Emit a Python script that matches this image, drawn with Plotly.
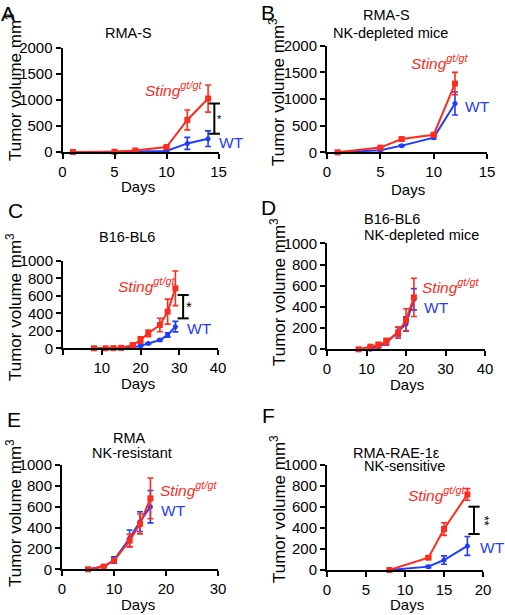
import plotly.graph_objects as go

W, H = 505, 615
RED = "#ff2b1c"
BLUE = "#1f3cff"
FONT = "Liberation Sans, Arial, sans-serif"

# ---------------- data ----------------
# Panel A: RMA-S
A_days = [1, 5, 7, 10, 12, 14]
A_sting = [0, 5, 30, 95, 615, 1025]
A_sting_sem = [0, 5, 10, 20, 190, 260]
A_wt = [0, 0, 8, 20, 165, 255]
A_wt_sem = [0, 0, 5, 8, 115, 150]

# Panel B: RMA-S NK-depleted
B_days = [1, 5, 7, 10, 12]
B_sting = [0, 88, 250, 330, 1290]
B_sting_sem = [0, 15, 20, 20, 210]
B_wt = [0, 40, 125, 275, 915]
B_wt_sem = [0, 10, 15, 20, 215]

# Panel C: B16-BL6
C_days_sting = [8, 11, 13, 15, 18, 20, 22, 25, 27, 29]
C_sting = [0, 0, 2, 5, 38, 95, 172, 267, 420, 687]
C_sting_sem = [0, 0, 0, 0, 10, 38, 38, 77, 143, 198]
C_days_wt = [15, 18, 20, 22, 25, 27, 29]
C_wt = [0, 10, 28, 55, 95, 153, 248]
C_wt_sem = [0, 3, 5, 8, 12, 25, 60]

# Panel D: B16-BL6 NK-depleted
D_days_sting = [8, 11, 13, 15, 18, 20, 22]
D_sting = [0, 25, 40, 72, 157, 277, 490]
D_sting_sem = [0, 8, 25, 32, 52, 105, 180]
D_days_wt = [11, 13, 15, 18, 20, 22]
D_wt = [0, 25, 57, 167, 239, 472]
D_wt_sem = [0, 8, 15, 40, 68, 100]

# Panel E: RMA NK-resistant
E_days = [5, 8, 10, 13, 15, 17]
E_sting = [0, 26, 83, 275, 435, 680]
E_sting_sem = [0, 5, 15, 60, 95, 195]
E_wt = [0, 26, 89, 297, 457, 600]
E_wt_sem = [0, 5, 30, 80, 95, 155]

# Panel F: RMA-RAE-1e NK-sensitive
F_days = [8, 13, 15, 18]
F_sting = [0, 117, 390, 720]
F_sting_sem = [0, 10, 60, 55]
F_wt = [0, 32, 95, 229]
F_wt_sem = [0, 10, 40, 90]

# significance brackets: (x, low, high, label)
A_sig = (14.6, 350, 930, "*")
C_sig = (31.0, 343, 610, "*")
F_sig = (18.85, 343, 603, "**")

letters = ["A", "B", "C", "D", "E", "F"]
y_ticks_big = [0, 500, 1000, 1500, 2000]
y_ticks_small = [0, 200, 400, 600, 800, 1000]

# ---------------- layout helpers ----------------
def px(x):
    return x / W

def py(y):
    return 1 - y / H

# plot-area boxes in pixels: (left, right, bottom, top)
boxes = {
    1: (62.5, 218.5, 152.0, 47.7),
    2: (327.0, 487.0, 152.3, 45.7),
    3: (63.0, 218.0, 348.3, 261.0),
    4: (327.0, 485.0, 349.3, 243.3),
    5: (62.0, 218.0, 569.3, 465.0),
    6: (327.0, 483.0, 570.0, 465.0),
}

panels = {
    1: dict(sx=A_days, s=A_sting, se=A_sting_sem, wx=A_days, w=A_wt, we=A_wt_sem,
            xr=[0, 15], xt=[0, 5, 10, 15], xtt=["0", "5", "10", "15"],
            yr=[0, 2000], yt=y_ticks_big),
    2: dict(sx=B_days, s=B_sting, se=B_sting_sem, wx=B_days, w=B_wt, we=B_wt_sem,
            xr=[0, 15], xt=[0, 5, 10, 15], xtt=["0", "5", "10", "15"],
            yr=[0, 2000], yt=y_ticks_big),
    3: dict(sx=C_days_sting, s=C_sting, se=C_sting_sem, wx=C_days_wt, w=C_wt, we=C_wt_sem,
            xr=[0, 40], xt=[0, 10, 20, 30, 40], xtt=["", "10", "20", "30", "40"],
            yr=[0, 1000], yt=y_ticks_small),
    4: dict(sx=D_days_sting, s=D_sting, se=D_sting_sem, wx=D_days_wt, w=D_wt, we=D_wt_sem,
            xr=[0, 40], xt=[0, 10, 20, 30, 40], xtt=["0", "10", "20", "30", "40"],
            yr=[0, 1000], yt=y_ticks_small),
    5: dict(sx=E_days, s=E_sting, se=E_sting_sem, wx=E_days, w=E_wt, we=E_wt_sem,
            xr=[0, 30], xt=[0, 10, 20, 30], xtt=["0", "10", "20", "30"],
            yr=[0, 1000], yt=y_ticks_small),
    6: dict(sx=F_days, s=F_sting, se=F_sting_sem, wx=F_days, w=F_wt, we=F_wt_sem,
            xr=[0, 20], xt=[0, 5, 10, 15, 20], xtt=["0", "5", "10", "15", "20"],
            yr=[0, 1000], yt=y_ticks_small),
}

fig = go.Figure()
layout = {}
annotations = []

for i, p in panels.items():
    xa = "x" if i == 1 else f"x{i}"
    ya = "y" if i == 1 else f"y{i}"
    l, r, b, t = boxes[i]
    axis_common = dict(showline=True, linecolor="black", linewidth=2,
                       ticks="outside", ticklen=5, tickwidth=2, tickcolor="black",
                       showgrid=False, zeroline=False, automargin=False,
                       tickfont=dict(family=FONT, size=15, color="black"))
    layout["xaxis" if i == 1 else f"xaxis{i}"] = dict(
        domain=[px(l), px(r)], anchor=ya, range=p["xr"],
        tickmode="array", tickvals=p["xt"], ticktext=p["xtt"], **axis_common)
    layout["yaxis" if i == 1 else f"yaxis{i}"] = dict(
        domain=[py(b), py(t)], anchor=xa, range=p["yr"],
        tickmode="array", tickvals=p["yt"], **axis_common)

    fig.add_trace(go.Scatter(
        x=p["wx"], y=p["w"], xaxis=xa, yaxis=ya, mode="lines+markers",
        line=dict(color=BLUE, width=2), marker=dict(symbol="circle", size=5, color=BLUE),
        error_y=dict(type="data", array=p["we"], visible=True, color=BLUE, thickness=1.6, width=3),
        cliponaxis=False, showlegend=False))
    fig.add_trace(go.Scatter(
        x=p["sx"], y=p["s"], xaxis=xa, yaxis=ya, mode="lines+markers",
        line=dict(color=RED, width=2), marker=dict(symbol="square", size=6, color=RED),
        error_y=dict(type="data", array=p["se"], visible=True, color=RED, thickness=1.6, width=3),
        cliponaxis=False, showlegend=False))

# significance brackets
for i, sig, fs, ang in [(1, A_sig, 11, 0), (3, C_sig, 15, 0), (6, F_sig, 13, 90)]:
    xa = "x" if i == 1 else f"x{i}"
    ya = "y" if i == 1 else f"y{i}"
    bx, lo, hi, lab = sig
    fig.add_trace(go.Scatter(
        x=[bx, bx], y=[lo, hi], xaxis=xa, yaxis=ya, mode="lines+markers",
        line=dict(color="black", width=2),
        marker=dict(symbol="line-ew", size=8, line=dict(color="black", width=2)),
        cliponaxis=False, showlegend=False))
    annotations.append(dict(x=bx, y=(lo + hi) / 2, xref=xa, yref=ya, text=lab,
                            showarrow=False, xanchor="left", xshift=1, textangle=ang,
                            font=dict(family=FONT, size=fs, color="black")))

# panel letters
letter_pos = {1: (8, 14), 2: (268, 13), 3: (15, 211), 4: (268, 207), 5: (14, 419), 6: (268, 415)}
for i, (lx, ly) in letter_pos.items():
    annotations.append(dict(x=px(lx), y=py(ly), xref="paper", yref="paper", text=letters[i - 1],
                            showarrow=False, xanchor="center", yanchor="middle",
                            font=dict(family=FONT, size=21, color="black")))

# titles (one annotation per line)
title_lines = [
    ("RMA-S", 128, 33, "center"),
    ("RMA-S", 386, 15, "center"),
    ("NK-depleted mice", 390, 33, "center"),
    ("B16-BL6", 127, 237, "center"),
    ("B16-BL6", 362, 219, "left"),
    ("NK-depleted mice", 362, 235, "left"),
    ("RMA", 129, 438, "center"),
    ("NK-resistant", 132, 453, "center"),
    ("RMA-RAE-1ε", 396, 453, "center"),
    ("NK-sensitive", 404, 466, "center"),
]
for txt, tx, ty, anc in title_lines:
    annotations.append(dict(x=px(tx), y=py(ty), xref="paper", yref="paper", text=txt,
                            showarrow=False, xanchor=anc, yanchor="middle",
                            font=dict(family=FONT, size=14.5, color="black")))

# y-axis titles
ytitle_pos = {1: (14, 87), 2: (277, 92), 3: (14, 307), 4: (278, 292), 5: (14, 513), 6: (278, 509)}
for i, (tx, ty) in ytitle_pos.items():
    annotations.append(dict(x=px(tx), y=py(ty), xref="paper", yref="paper",
                            text="Tumor volume mm<sup>3</sup>", textangle=-90,
                            showarrow=False, xanchor="center", yanchor="middle",
                            font=dict(family=FONT, size=17, color="black")))

# x-axis titles
xtitle_pos = {1: (138, 186), 2: (408, 189), 3: (138, 383), 4: (407, 384), 5: (138, 604), 6: (407, 604)}
for i, (tx, ty) in xtitle_pos.items():
    annotations.append(dict(x=px(tx), y=py(ty), xref="paper", yref="paper", text="Days",
                            showarrow=False, xanchor="center", yanchor="middle",
                            font=dict(family=FONT, size=15, color="black")))

# series labels
label_pos = {
    1: ((143, 92), (217, 142)),
    2: ((409, 65), (463, 107)),
    3: ((116, 288), (185, 328)),
    4: ((420, 289), (422, 307)),
    5: ((158, 492), (159, 510)),
    6: ((406, 497), (478, 547)),
}
for i, ((sx_, sy_), (wx_, wy_)) in label_pos.items():
    annotations.append(dict(x=px(sx_), y=py(sy_), xref="paper", yref="paper",
                            text="<i>Sting<sup>gt/gt</sup></i>", showarrow=False,
                            xanchor="left", yanchor="middle", yshift=3,
                            font=dict(family=FONT, size=15.5, color=RED)))
    annotations.append(dict(x=px(wx_), y=py(wy_), xref="paper", yref="paper",
                            text="WT", showarrow=False, xanchor="left", yanchor="middle",
                            font=dict(family=FONT, size=15.5, color=BLUE)))

fig.update_layout(**layout)
fig.update_layout(width=W, height=H,
                  margin=dict(l=0, r=0, t=0, b=0, pad=0, autoexpand=False),
                  paper_bgcolor="white", plot_bgcolor="white",
                  annotations=annotations, showlegend=False)
fig.write_html("out.html", config={"displayModeBar": False},
               post_script="document.body.style.margin='0';document.body.style.padding='0';"
                           "document.body.style.overflow='hidden';")
